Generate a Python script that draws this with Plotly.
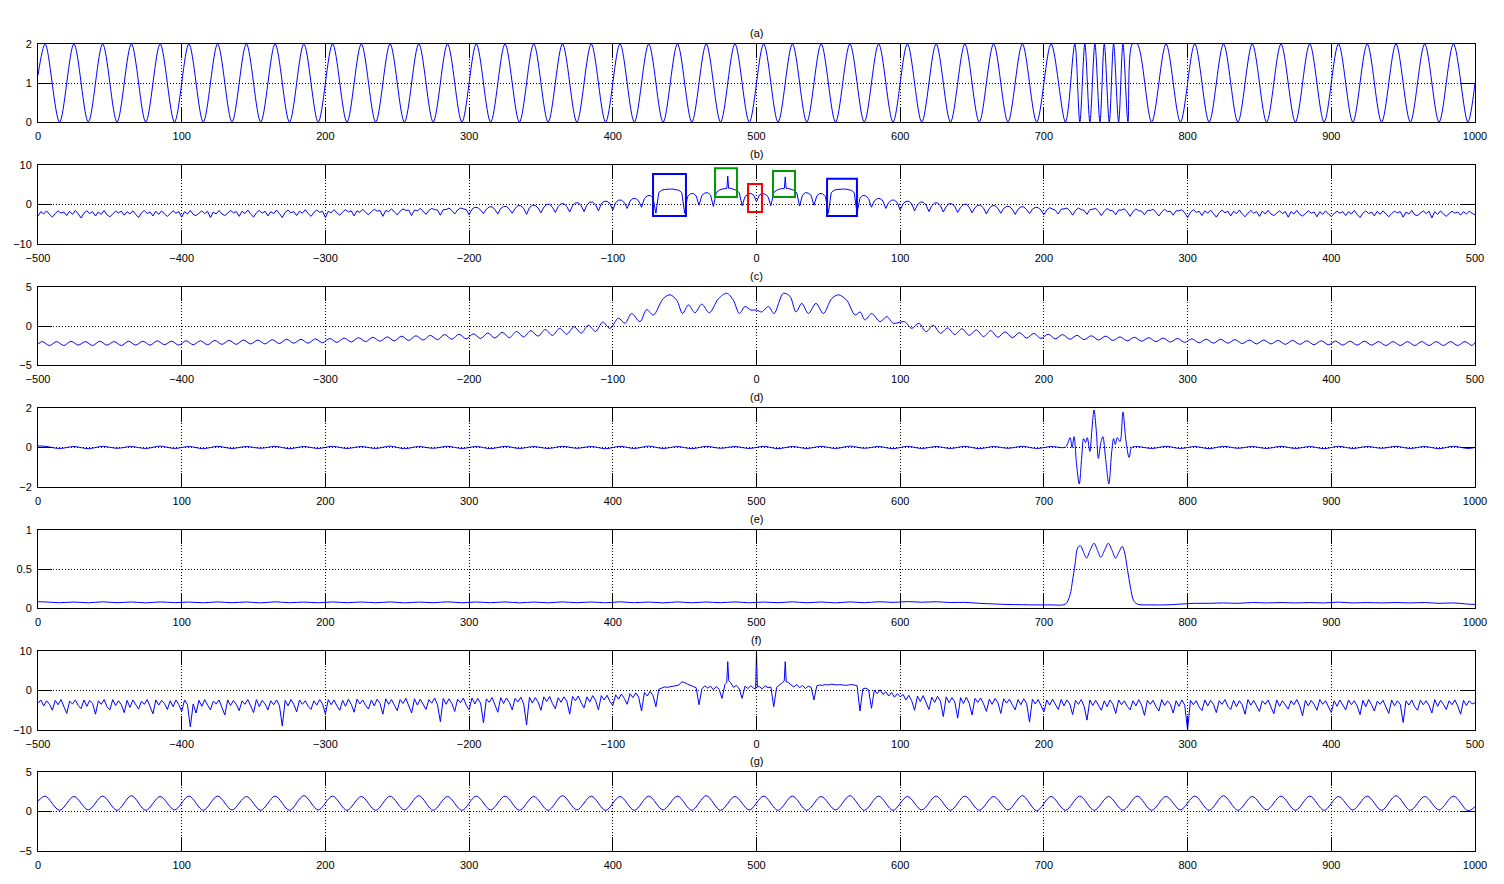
import plotly.graph_objects as go

# ---------------- data ----------------
# extremum positions of the period-20 carrier (before / after the burst)
EXT_X_PRE = [5, 15, 25, 35, 45, 55, 65, 75, 85, 95, 105, 115, 125, 135, 145, 155, 165, 175, 185, 195,
             205, 215, 225, 235, 245, 255, 265, 275, 285, 295, 305, 315, 325, 335, 345, 355, 365, 375, 385, 395,
             405, 415, 425, 435, 445, 455, 465, 475, 485, 495, 505, 515, 525, 535, 545, 555, 565, 575, 585, 595,
             605, 615, 625, 635, 645, 655, 665, 675, 685, 695, 705, 715]
EXT_X_POST = [765, 775, 785, 795, 805, 815, 825, 835, 845, 855, 865, 875, 885, 895, 905, 915, 925, 935, 945, 955,
              965, 975, 985, 995]

# (a) signal
A_START, A_END = 1.2, 1.0
A_Y_PRE = [2, 0, 2, 0, 2, 0, 2, 0, 2, 0, 2, 0, 2, 0, 2, 0, 2, 0, 2, 0, 2, 0, 2, 0, 2, 0, 2, 0, 2, 0, 2, 0, 2, 0, 2, 0,
           2, 0, 2, 0, 2, 0, 2, 0, 2, 0, 2, 0, 2, 0, 2, 0, 2, 0, 2, 0, 2, 0, 2, 0, 2, 0, 2, 0, 2, 0, 2, 0, 2, 0, 2, 0]
A_BURST_X = [721.5, 725, 728.5, 732, 735.5, 739, 742, 745.5, 748.5, 752, 755, 758.5, 761.5]
A_BURST_Y = [2, 0, 2, 0, 2, 0, 2, 0, 2, 0, 2, 0, 2]
A_Y_POST = [2, 0, 2, 0, 2, 0, 2, 0, 2, 0, 2, 0, 2, 0, 2, 0, 2, 0, 2, 0, 2, 0, 2, 0]

# (b) log spectrum, sampled every 2 units from -500 to 500
B_Y = [
    -2.9, -1.8, -2.4, -1.6, -2.5, -3.2, -2.3, -1.6, -2.2, -1.9, -2.8, -1.7, -2.5, -1.5, -2.4, -3.4, -2.2, -1.6, -2.3, -1.8,
    -2.9, -1.9, -2.5, -1.5, -2.6, -3.1, -2.4, -1.7, -2.1, -1.7, -2.7, -1.8, -2.4, -1.6, -2.5, -3.3, -2.1, -1.5, -2.3, -1.9,
    -2.9, -1.7, -2.5, -1.6, -2.4, -3.0, -2.3, -1.6, -2.2, -1.8, -3.2, -1.8, -2.4, -1.5, -2.5, -2.8, -2.2, -1.6, -2.3, -1.7,
    -3.3, -1.9, -2.4, -1.5, -2.4, -2.8, -2.2, -1.5, -2.1, -1.8, -3.0, -1.7, -2.3, -1.4, -2.4, -3.2, -2.1, -1.5, -2.2, -1.7,
    -2.9, -1.8, -2.3, -1.4, -2.3, -3.3, -2.0, -1.4, -2.1, -1.8, -2.8, -1.7, -2.2, -1.3, -2.3, -3.0, -2.0, -1.4, -2.0, -1.7,
    -3.3, -1.7, -2.1, -1.3, -2.1, -2.7, -1.9, -1.3, -1.9, -1.6, -2.9, -1.6, -2.0, -1.2, -2.0, -2.6, -1.8, -1.2, -1.7, -1.5,
    -3.0, -1.5, -1.8, -1.1, -1.9, -2.6, -1.7, -1.1, -1.5, -1.4, -2.8, -1.4, -1.6, -1.0, -1.7, -2.5, -1.5, -1.0, -1.3, -1.4,
    -2.7, -1.3, -1.3, -0.9, -1.5, -2.4, -1.4, -0.9, -1.1, -1.3,
    -2.6, -1.2, -0.7, -0.8, -1.4, -2.3, -1.2, -0.6, -0.6, -1.3, -2.4, -1.0, -0.5, -0.5, -1.2, -2.2, -1.0, -0.3, -0.3, -1.0,
    -2.5, -0.8, -0.2, -0.2, -0.9, -2.1, -0.7, 0.0, 0.1, -0.7, -2.0, -0.5, 0.2, 0.2, -0.5, -1.9, -0.3, 0.4, 0.4, -0.3,
    -1.8, -0.1, 0.6, 0.6, -0.1, -1.6, 0.2, 0.8, 0.8, 0.2,
    -1.4, 0.5, 1.1, 1.1, 0.5, -1.0, 0.9, 1.5, 1.5, 0.9, -0.7, 1.5, 2.2, 2.3, 1.6, -2.2, 3.0, 3.6, 3.8, 3.9,
    3.9, 3.9, 3.8, 3.6, 3.0, -2.2, 2.0, 2.7, 2.8, 2.2, -0.2, 2.3, 2.9, 3.0, 2.4, -0.5, 3.0, 3.6, 3.9, 4.1,
    7.2, 4.1, 3.9, 3.6, 3.0, -0.3, 2.0, 2.6, 2.8, 2.4,
    0.7, 2.4, 2.8, 2.6, 2.0, -0.3, 3.0, 3.6, 3.9, 4.1, 7.0, 4.1, 3.9, 3.6, 3.0, -0.4, 2.4, 3.0, 2.9, 2.3,
    -0.2, 2.2, 2.8, 2.7, 2.0, -2.2, 3.0, 3.6, 3.8, 3.9, 3.9, 3.9, 3.8, 3.6, 3.0, -2.2, 1.6, 2.3, 2.2, 1.5,
    -0.7, 0.9, 1.5, 1.5, 0.9, -1.0, 0.5, 1.1, 1.1, 0.5,
    -1.4, 0.2, 0.8, 0.8, 0.2, -1.6, -0.1, 0.6, 0.6, -0.1, -1.8, -0.3, 0.4, 0.4, -0.3, -1.9, -0.5, 0.2, 0.2, -0.5,
    -2.0, -0.7, 0.0, 0.1, -0.7, -2.1, -0.8, -0.2, -0.2, -0.9, -2.4, -1.0, -0.3, -0.3, -1.0, -2.2, -1.0, -0.5, -0.5, -1.2,
    -2.5, -1.2, -0.6, -0.6, -1.3, -2.3, -1.2, -0.7, -0.8, -1.4,
    -2.6, -1.4, -0.8, -1.1, -1.5, -2.4, -1.2, -1.1, -0.9, -1.6, -2.7, -1.5, -0.9, -1.3, -1.5, -2.5, -1.3, -1.2, -1.0, -1.7,
    -2.8, -1.7, -1.0, -1.5, -1.6, -2.6, -1.4, -1.4, -1.1, -1.9, -3.0, -1.8, -1.1, -1.6, -1.7, -2.6, -1.5, -1.5, -1.2, -2.0,
    -2.9, -1.9, -1.2, -1.8, -1.7, -2.7, -1.6, -1.6, -1.3, -2.1,
    -3.3, -2.0, -1.3, -2.0, -1.7, -2.8, -1.6, -2.2, -1.4, -2.3, -3.2, -2.1, -1.4, -2.1, -1.7, -2.9, -1.7, -2.3, -1.4, -2.4,
    -3.1, -2.2, -1.5, -2.2, -1.8, -3.0, -1.7, -2.4, -1.5, -2.4, -2.8, -2.2, -1.6, -2.3, -1.8, -3.2, -1.8, -2.4, -1.5, -2.5,
    -2.9, -2.3, -1.6, -2.2, -1.9, -3.1, -1.8, -2.5, -1.6, -2.4, -3.0, -2.3, -1.7, -2.2, -1.8, -2.8, -1.8, -2.4, -1.5, -2.5,
    -3.3, -2.2, -1.6, -2.3, -1.9, -2.9, -1.7, -2.5, -1.6, -2.4, -3.1, -2.3, -1.7, -2.1, -1.8, -3.2, -1.9, -2.4, -1.5, -2.6,
    -2.8, -2.2, -1.6, -2.3, -1.7, -3.4, -1.8, -2.5, -1.6, -2.4, -3.0, -2.3, -1.7, -2.2, -1.9, -2.7, -1.8, -2.4, -1.7, -2.2,
    -2.6]
B_EXTRA_X = [-20.6, -19.4, 19.4, 20.6]
B_EXTRA_Y = [4.1, 4.1, 4.1, 4.1]

# (b) highlight boxes (x0, x1, y0, y1, colour)
BOX_X0 = [-72.0, -28.9, -5.9, 11.5, 49.1]
BOX_X1 = [-49.1, -13.6, 3.8, 26.8, 69.9]
BOX_Y0 = [-2.9, 1.9, -1.9, 1.9, -2.9]
BOX_Y1 = [7.7, 9.2, 5.2, 8.5, 6.5]
BOX_COLOR = ["#0000ff", "#009a00", "#ff0000", "#009a00", "#0000ff"]

# (c) smoothed log spectrum: ripple extrema
C_X = [-500,
       -497, -492, -487, -482, -477, -472, -467, -462, -457, -452, -447, -442, -437, -432, -427, -422, -417, -412, -407, -402,
       -397, -392, -387, -382, -377, -372, -367, -362, -357, -352, -347, -342, -337, -332, -327, -322, -317, -312, -307, -302,
       -297, -292, -287, -282, -277, -272, -267, -262, -257, -252, -247, -242, -237, -232, -227, -222, -217, -212, -207, -202,
       -197, -192, -187, -182, -177, -172, -167, -162, -157, -152, -147, -142, -137, -132, -127, -122, -117, -112, -107, -102,
       -96.1, -91.5, -86.9, -81.1, -76.4, -71.8, -65, -60.2, -55.5, -51.4, -47.4, -42.8, -38.1, -32.8, -26.5, -20.7, -16.1,
       -11.9, -8.0, -4.0, 0.1, 3.6, 8.3, 12.2, 18.7, 23.3, 27.5, 31.5, 36.1, 41.4, 46.5, 52.3, 57.0, 62.8, 68.6, 72.1, 75.5,
       80.2, 86.0, 90.6, 95.3,
       103, 108, 113, 118, 123, 128, 133, 138, 143, 148, 153, 158, 163, 168, 173, 178, 183, 188, 193, 198,
       203, 208, 213, 218, 223, 228, 233, 238, 243, 248, 253, 258, 263, 268, 273, 278, 283, 288, 293, 298,
       303, 308, 313, 318, 323, 328, 333, 338, 343, 348, 353, 358, 363, 368, 373, 378, 383, 388, 393, 398,
       403, 408, 413, 418, 423, 428, 433, 438, 443, 448, 453, 458, 463, 468, 473, 478, 483, 488, 493, 498, 500]
C_Y = [-2.3,
       -2.0, -2.5, -2.0, -2.5, -1.95, -2.45, -2.0, -2.5, -1.95, -2.45, -2.0, -2.5, -1.95, -2.45, -1.95, -2.45, -1.9, -2.4, -1.95, -2.45,
       -1.9, -2.4, -1.9, -2.4, -1.85, -2.35, -1.85, -2.35, -1.8, -2.3, -1.8, -2.3, -1.75, -2.25, -1.7, -2.2, -1.7, -2.2, -1.65, -2.15,
       -1.6, -2.1, -1.55, -2.05, -1.5, -2.0, -1.45, -1.95, -1.4, -1.9, -1.3, -1.85, -1.25, -1.8, -1.2, -1.75, -1.1, -1.7, -1.05, -1.65,
       -1.0, -1.6, -0.9, -1.55, -0.8, -1.5, -0.7, -1.4, -0.6, -1.3, -0.45, -1.2, -0.3, -1.05, -0.1, -0.9, 0.1, -0.7, 0.5, -0.3,
       1.0, 0.35, 1.6, 0.55, 2.1, 1.4, 3.5, 4.0, 3.3, 1.6, 2.7, 1.7, 2.8, 1.7, 3.5, 4.2, 3.3,
       1.6, 2.5, 2.05, 2.05, 1.8, 2.5, 1.6, 4.2, 3.8, 1.8, 2.9, 1.6, 2.9, 1.6, 3.5, 4.0, 3.3, 1.4, 1.8, 0.77,
       1.6, 0.55, 1.2, 0.35,
       0.55, -0.3, 0.35, -0.73, 0.1, -0.94, -0.25, -1.1, -0.35, -1.2, -0.5, -1.35, -0.6, -1.45, -0.75, -1.5, -0.85, -1.55, -0.95, -1.6,
       -1.05, -1.65, -1.1, -1.7, -1.2, -1.75, -1.25, -1.8, -1.3, -1.85, -1.4, -1.9, -1.45, -1.95, -1.5, -2.0, -1.55, -2.05, -1.6, -2.1,
       -1.65, -2.15, -1.7, -2.2, -1.7, -2.2, -1.75, -2.25, -1.8, -2.3, -1.8, -2.3, -1.85, -2.35, -1.85, -2.35, -1.9, -2.4, -1.9, -2.4,
       -1.95, -2.45, -1.95, -2.45, -1.95, -2.45, -2.0, -2.5, -2.0, -2.5, -2.0, -2.5, -2.0, -2.5, -2.0, -2.5, -2.0, -2.5, -2.0, -2.5, -2.1]

# (d) residual signal
D_START, D_END = 0.08, 0.0
D_Y_PRE = [0.06, -0.05, 0.05, -0.06, 0.06, -0.04, 0.05, -0.05, 0.07, -0.05, 0.05, -0.06, 0.06, -0.05, 0.05, -0.04, 0.06, -0.06, 0.05, -0.05,
           0.06, -0.05, 0.05, -0.05, 0.07, -0.06, 0.05, -0.04, 0.06, -0.05, 0.05, -0.06, 0.06, -0.05, 0.05, -0.05, 0.06, -0.04, 0.05, -0.06,
           0.06, -0.05, 0.07, -0.05, 0.05, -0.06, 0.06, -0.04, 0.05, -0.05, 0.06, -0.06, 0.05, -0.05, 0.06, -0.05, 0.07, -0.04, 0.05, -0.06,
           0.06, -0.05, 0.05, -0.05, 0.06, -0.06, 0.05, -0.04, 0.06, -0.05, 0.05, 0.02]
D_BURST_X = [718.2, 719.6, 721.0, 722.8, 724.6, 726.4, 727.6, 729.0, 730.2, 732.0, 733.4, 734.9, 736.4, 737.9, 739.5,
             741.0, 743.0, 745.2, 747.2, 748.5, 749.7, 751.0, 753.0, 755.0, 757.0, 759.3, 761.1]
D_BURST_Y = [0.5, 0.0, 0.55, -0.9, -1.85, -0.4, 0.45, 0.25, 0.5, -0.2, 0.9, 1.9, 0.9, -0.55, 0.2,
             0.55, -0.6, -1.85, -0.2, 0.45, 0.15, 0.5, 0.3, 1.8, 0.4, -0.5, 0.0]
D_Y_POST = [0.05, -0.05, 0.06, -0.05, 0.05, -0.06, 0.06, -0.04, 0.05, -0.05, 0.06, -0.05, 0.05, -0.06, 0.06, -0.05, 0.05, -0.04, 0.06, -0.05,
            0.05, -0.06, 0.06, -0.05]

# (e) envelope
E_START, E_END = 0.08, 0.045
E_Y_PRE = [0.078, 0.068, 0.076, 0.067, 0.079, 0.068, 0.077, 0.066, 0.078, 0.069, 0.076, 0.067, 0.078, 0.068, 0.077, 0.066, 0.079, 0.068, 0.076, 0.067,
           0.078, 0.068, 0.077, 0.067, 0.078, 0.066, 0.076, 0.068, 0.079, 0.067, 0.077, 0.068, 0.078, 0.066, 0.076, 0.067, 0.078, 0.068, 0.077, 0.067,
           0.079, 0.068, 0.076, 0.066, 0.078, 0.067, 0.077, 0.068, 0.078, 0.067, 0.076, 0.068, 0.079, 0.067, 0.077, 0.066, 0.078, 0.068, 0.080, 0.072,
           0.082, 0.074, 0.080, 0.070, 0.072, 0.060, 0.052, 0.045, 0.042, 0.040, 0.040, 0.050]
E_BURST_X = [718.2, 720, 721.6, 723.5, 725.4, 727.5, 729.6, 732.2, 734.9, 737.3, 739.6, 742.2, 744.8, 747.4, 749.9, 752.3,
             754.5, 756.1, 758, 760.4, 762.3]
E_BURST_Y = [0.17, 0.36, 0.55, 0.77, 0.80, 0.72, 0.64, 0.74, 0.83, 0.74, 0.65, 0.74, 0.83, 0.74, 0.64, 0.72,
             0.79, 0.72, 0.51, 0.25, 0.10]
E_Y_POST = [0.05, 0.04, 0.04, 0.05, 0.06, 0.06, 0.065, 0.06, 0.07, 0.065, 0.07, 0.065, 0.07, 0.065, 0.075, 0.065, 0.07, 0.065, 0.07, 0.065,
            0.07, 0.06, 0.065, 0.05]

# (f) log spectrum of the residual, sampled every 2 units
F_Y = [
    -3.2, -2.4, -3.9, -2.6, -3.5, -5.0, -2.5, -3.6, -2.3, -4.2, -5.8, -2.7, -3.4, -2.4, -3.8, -4.6, -2.4, -4.0, -2.5, -3.3,
    -6.0, -2.6, -3.5, -2.3, -4.1, -4.9, -2.3, -3.8, -2.6, -3.6, -5.6, -2.5, -4.3, -2.4, -3.4, -4.7, -2.7, -3.5, -2.3, -3.9,
    -5.9, -2.4, -3.7, -2.5, -3.3, -4.8, -2.6, -4.1, -2.4, -3.6,
    -5.3, -2.4, -3.6, -9.2, -3.4, -5.7, -2.5, -4.0, -2.3, -3.7, -4.9, -2.7, -3.4, -2.4, -4.2, -6.2, -2.4, -3.8, -2.5, -3.5,
    -5.1, -2.6, -3.5, -2.3, -3.9, -5.6, -2.3, -4.1, -2.5, -3.4, -4.9, -2.6, -3.6, -2.4, -3.8, -9.0, -2.5, -3.9, -2.3, -3.5,
    -5.4, -2.4, -3.5, -2.6, -4.0, -4.8, -2.6, -3.7, -2.3, -3.4,
    -5.9, -2.3, -3.6, -2.4, -3.9, -5.0, -2.5, -4.0, -2.2, -3.5, -5.5, -2.2, -3.4, -2.4, -3.8, -4.7, -2.4, -3.9, -2.2, -3.3,
    -6.0, -2.1, -3.5, -2.3, -3.7, -5.1, -2.3, -3.3, -2.0, -3.9, -5.7, -2.1, -3.7, -2.2, -3.4, -4.8, -2.3, -3.2, -1.9, -3.6,
    -7.9, -2.0, -3.5, -2.1, -3.3, -5.3, -2.2, -3.1, -1.9, -3.7,
    -4.9, -1.9, -3.4, -2.0, -3.2, -8.2, -2.1, -3.0, -1.8, -3.5, -5.5, -1.8, -3.3, -1.9, -3.0, -4.9, -2.0, -2.9, -1.7, -3.4,
    -8.7, -1.7, -3.2, -1.8, -2.9, -5.0, -1.6, -2.8, -1.5, -3.3, -4.6, -1.8, -3.0, -1.6, -2.7, -6.0, -1.5, -2.6, -1.4, -3.1,
    -4.4, -1.6, -2.9, -1.3, -2.5, -4.9, -1.3, -2.4, -1.2, -2.8,
    -3.8, -1.1, -2.2, -0.9, -2.0, -3.5, -0.8, -1.8, -0.6, -1.7, -5.2, -0.5, -1.4, -0.2, -1.3, -4.1, 0.3, 0.6, 0.9, 0.8,
    1.0, 1.1, 1.2, 1.4, 2.2, 2.0, 1.6, 1.2, 1.0, 0.7, -3.6, 0.4, 1.2, 0.6, 1.1, 0.2, 1.0, 0.3, -2.0, 1.5,
    7.3, 2.0, 0.8, 1.3, 0.4, -2.0, 1.1, 0.5, 1.2, 0.6,
    9.8, 1.0, 0.4, 1.2, 0.7, 0.9, -4.1, 0.8, 1.3, 2.0, 7.3, 2.1, 1.4, 0.9, 1.5, 0.7, 1.3, 0.5, 1.1, 0.8,
    -2.4, 1.2, 1.4, 1.3, 1.5, 1.4, 1.6, 1.5, 1.4, 1.5, 1.4, 1.3, 1.4, 1.5, 1.4, 1.2, -5.2, 0.4, 0.6, 0.2,
    -4.5, 0.1, -0.8, 0.2, -1.0, -0.3, -1.4, -0.5, -1.7, -0.8,
    -1.6, -1.0, -2.4, -1.2, -2.6, -5.0, -1.4, -2.8, -1.3, -2.9, -4.8, -1.7, -3.0, -1.5, -2.7, -6.6, -1.6, -3.1, -1.8, -2.9,
    -7.0, -1.8, -3.3, -1.7, -3.2, -6.2, -2.0, -3.0, -1.9, -3.4, -5.3, -2.2, -3.5, -2.0, -3.1, -5.8, -2.1, -3.2, -2.2, -3.6,
    -4.9, -2.3, -3.6, -2.1, -3.3, -8.0, -2.2, -3.4, -2.3, -3.8,
    -5.4, -2.4, -3.7, -2.2, -3.5, -4.8, -2.3, -3.9, -2.4, -3.4, -6.1, -2.5, -3.5, -2.3, -4.0, -7.5, -2.4, -3.8, -2.5, -3.6,
    -5.0, -2.6, -4.1, -2.4, -3.5, -5.8, -2.4, -3.6, -2.6, -4.0, -4.9, -2.6, -3.9, -2.3, -3.7, -6.3, -2.5, -3.5, -2.5, -4.1,
    -5.2, -2.3, -3.8, -2.6, -3.5, -5.7, -2.6, -4.0, -2.4, -3.7,
    -10.0, -2.5, -3.6, -2.6, -4.2, -5.1, -2.4, -3.9, -2.5, -3.5, -5.6, -2.6, -3.5, -2.3, -4.0, -4.8, -2.5, -4.1, -2.6, -3.6,
    -6.0, -2.3, -3.7, -2.5, -3.9, -5.3, -2.6, -3.5, -2.4, -4.2, -5.9, -2.4, -4.0, -2.6, -3.6, -4.7, -2.6, -3.6, -2.3, -3.9,
    -6.4, -2.5, -3.9, -2.5, -3.5, -5.0, -2.3, -3.5, -2.6, -4.1,
    -5.6, -2.6, -4.0, -2.4, -3.7, -4.9, -2.4, -3.6, -2.6, -3.9, -6.1, -2.5, -4.1, -2.3, -3.6, -5.2, -2.7, -3.5, -2.5, -4.0,
    -5.8, -2.4, -3.9, -2.6, -3.5, -8.1, -2.6, -3.7, -2.4, -4.1, -5.0, -2.5, -3.6, -2.6, -3.8, -5.7, -2.3, -4.0, -2.5, -3.5,
    -4.8, -2.6, -3.6, -2.4, -3.9, -6.0, -2.5, -3.8, -2.6, -3.4,
    -3.1]
F_EXTRA_X = [-20.7, -19.3, -0.6, 0.6, 19.3, 20.7]
F_EXTRA_Y = [2.0, 2.5, 0.4, 0.9, 2.4, 2.2]

# (g) reconstructed signal
G_START, G_END = 1.3, 0.6
G_Y_PRE = [1.95, 0.15, 1.9, 0.2, 1.95, 0.15, 2.0, 0.15, 1.9, 0.2, 1.95, 0.15, 1.95, 0.2, 1.9, 0.15, 1.95, 0.15, 2.0, 0.2,
           1.95, 0.15, 1.9, 0.15, 1.95, 0.2, 2.0, 0.15, 1.9, 0.15, 1.95, 0.2, 1.95, 0.15, 1.9, 0.15, 2.0, 0.2, 1.95, 0.15,
           1.9, 0.15, 1.95, 0.2, 1.95, 0.15, 2.0, 0.15, 1.9, 0.2, 1.95, 0.15, 1.95, 0.15, 1.9, 0.2, 2.0, 0.15, 1.95, 0.15,
           1.9, 0.2, 1.95, 0.15, 1.95, 0.15, 1.9, 0.2, 2.0, 0.1, 1.9, 0.15]
G_MID_X = [725, 735, 745, 755]
G_MID_Y = [1.95, 0.15, 1.9, 0.15]
G_Y_POST = [1.95, 0.15, 1.9, 0.2, 1.95, 0.15, 2.0, 0.15, 1.9, 0.2, 1.95, 0.15, 1.95, 0.15, 1.9, 0.2, 1.95, 0.15, 2.0, 0.15,
            1.9, 0.2, 1.95, 0.1]

TITLES = ["(a)", "(b)", "(c)", "(d)", "(e)", "(f)", "(g)"]
X_TICKS_TIME = [0, 100, 200, 300, 400, 500, 600, 700, 800, 900, 1000]
X_TICKS_FREQ = [-500, -400, -300, -200, -100, 0, 100, 200, 300, 400, 500]
Y_TICKS = [[0, 1, 2], [-10, 0, 10], [-5, 0, 5], [-2, 0, 2], [0, 0.5, 1], [-10, 0, 10], [-5, 0, 5]]

# ---------------- assemble series ----------------
def merged(xs, ys, ex, ey):
    d = dict(zip(xs, ys))
    d.update(zip(ex, ey))
    k = sorted(d)
    return k, [d[v] for v in k]

FREQ_X = list(range(-500, 501, 2))

a_x = [0] + EXT_X_PRE + A_BURST_X + EXT_X_POST + [1000]
a_y = [A_START] + A_Y_PRE + A_BURST_Y + A_Y_POST + [A_END]
b_x, b_y = merged(FREQ_X, B_Y, B_EXTRA_X, B_EXTRA_Y)
d_x = [0] + EXT_X_PRE + D_BURST_X + EXT_X_POST + [1000]
d_y = [D_START] + D_Y_PRE + D_BURST_Y + D_Y_POST + [D_END]
e_x = [0] + EXT_X_PRE + E_BURST_X + EXT_X_POST + [1000]
e_y = [E_START] + E_Y_PRE + E_BURST_Y + E_Y_POST + [E_END]
f_x, f_y = merged(FREQ_X, F_Y, F_EXTRA_X, F_EXTRA_Y)
g_x = [0] + EXT_X_PRE + G_MID_X + EXT_X_POST + [1000]
g_y = [G_START] + G_Y_PRE + G_MID_Y + G_Y_POST + [G_END]

series = [
    (a_x, a_y, "spline", [0, 1000], [0, 2], X_TICKS_TIME),
    (b_x, b_y, "linear", [-500, 500], [-10, 10], X_TICKS_FREQ),
    (C_X, C_Y, "spline", [-500, 500], [-5, 5], X_TICKS_FREQ),
    (d_x, d_y, "spline", [0, 1000], [-2, 2], X_TICKS_TIME),
    (e_x, e_y, "spline", [0, 1000], [0, 1], X_TICKS_TIME),
    (f_x, f_y, "linear", [-500, 500], [-10, 10], X_TICKS_FREQ),
    (g_x, g_y, "spline", [0, 1000], [-5, 5], X_TICKS_TIME),
]

# ---------------- figure ----------------
W, H = 1504, 884
LEFT, RIGHT = 38, 1475
PANELS = [(44, 122), (165, 244), (287, 365), (408, 487), (530, 608), (651, 730), (772, 851)]
FONT = dict(family="Liberation Sans, Arial, sans-serif", size=11, color="black")

fig = go.Figure()
layout = dict(width=W, height=H, margin=dict(l=0, r=0, t=0, b=0, autoexpand=False),
              paper_bgcolor="white", plot_bgcolor="white", showlegend=False,
              annotations=[], shapes=[])

axis_style = dict(showline=True, linecolor="black", linewidth=1, mirror="ticks",
                  ticks="inside", ticklen=14, tickwidth=1, tickcolor="black",
                  showgrid=True, gridcolor="black", gridwidth=1, griddash="1px,2px",
                  zeroline=False, tickfont=FONT, fixedrange=True, automargin=False)

for i, (xs, ys, shp, xr, yr, xt) in enumerate(series):
    sfx = "" if i == 0 else str(i + 1)
    fig.add_trace(go.Scatter(x=xs, y=ys, mode="lines",
                             line=dict(color="#0000ff", width=1, shape=shp, smoothing=0.9 if shp == "spline" else None),
                             xaxis="x" + sfx, yaxis="y" + sfx, hoverinfo="skip"))
    top, bot = PANELS[i]
    layout["xaxis" + sfx] = dict(axis_style, domain=[LEFT / W, RIGHT / W], range=xr, tickvals=xt,
                                 anchor="y" + sfx, ticklabelstandoff=4)
    layout["yaxis" + sfx] = dict(axis_style, domain=[1 - bot / H, 1 - top / H], range=yr, tickvals=Y_TICKS[i],
                                 anchor="x" + sfx, ticklabelstandoff=3)
    layout["annotations"].append(dict(text=TITLES[i], xref="paper", yref="paper",
                                      x=(LEFT + RIGHT) / 2 / W, y=1 - top / H, xanchor="center",
                                      yanchor="bottom", yshift=3, showarrow=False, font=FONT))

for x0, x1, y0, y1, c in zip(BOX_X0, BOX_X1, BOX_Y0, BOX_Y1, BOX_COLOR):
    layout["shapes"].append(dict(type="rect", xref="x2", yref="y2", x0=x0, x1=x1, y0=y0, y1=y1,
                                 line=dict(color=c, width=2), fillcolor="rgba(0,0,0,0)"))

fig.update_layout(**layout)
fig.write_html("out.html")
